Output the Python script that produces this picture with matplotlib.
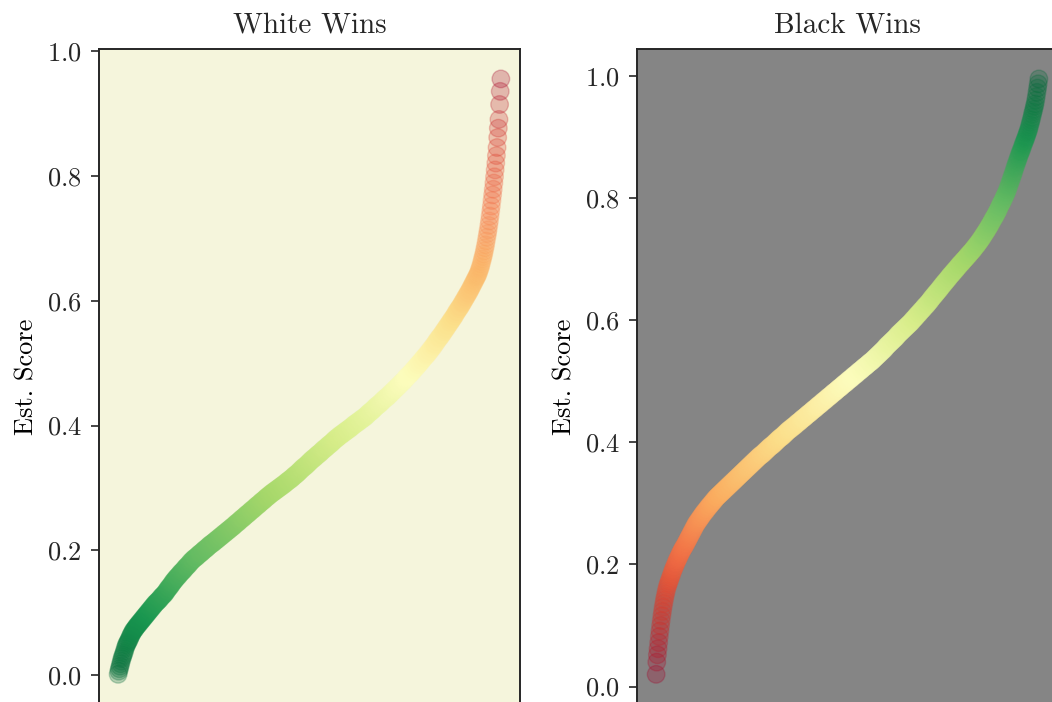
# sorted estimated scores for decisive games, one panel per winner

import numpy as np
import matplotlib
matplotlib.use('Agg')
import matplotlib.pyplot as plt


# est. score of each game where white won, sorted ascending
white_scores = [
    0.001, 0.006, 0.010, 0.014, 0.018, 0.022, 0.026, 0.029, 0.032, 0.035,
    0.038, 0.042, 0.045, 0.048, 0.050, 0.052, 0.054, 0.056, 0.058, 0.061,
    0.063, 0.065, 0.067, 0.069, 0.071, 0.072, 0.073, 0.075, 0.076, 0.078,
    0.079, 0.080, 0.081, 0.083, 0.084, 0.085, 0.086, 0.088, 0.089, 0.090,
    0.091, 0.093, 0.094, 0.095, 0.096, 0.098, 0.099, 0.100, 0.101, 0.103,
    0.104, 0.105, 0.106, 0.108, 0.109, 0.110, 0.111, 0.113, 0.114, 0.115,
    0.116, 0.117, 0.118, 0.119, 0.120, 0.121, 0.122, 0.124, 0.125, 0.126,
    0.127, 0.128, 0.129, 0.130, 0.131, 0.133, 0.134, 0.136, 0.137, 0.139,
    0.140, 0.141, 0.142, 0.144, 0.145, 0.147, 0.148, 0.150, 0.151, 0.152,
    0.153, 0.155, 0.156, 0.157, 0.158, 0.159, 0.160, 0.162, 0.163, 0.164,
    0.165, 0.166, 0.167, 0.168, 0.169, 0.171, 0.172, 0.173, 0.174, 0.175,
    0.176, 0.177, 0.178, 0.180, 0.181, 0.182, 0.183, 0.184, 0.185, 0.186,
    0.187, 0.188, 0.188, 0.189, 0.190, 0.191, 0.192, 0.193, 0.194, 0.195,
    0.195, 0.196, 0.197, 0.198, 0.199, 0.200, 0.201, 0.202, 0.202, 0.203,
    0.204, 0.205, 0.206, 0.207, 0.208, 0.209, 0.209, 0.210, 0.211, 0.212,
    0.212, 0.213, 0.214, 0.215, 0.216, 0.217, 0.217, 0.218, 0.219, 0.220,
    0.221, 0.222, 0.222, 0.223, 0.224, 0.225, 0.226, 0.227, 0.227, 0.228,
    0.229, 0.230, 0.231, 0.232, 0.232, 0.233, 0.234, 0.235, 0.236, 0.237,
    0.237, 0.238, 0.239, 0.240, 0.241, 0.242, 0.243, 0.244, 0.244, 0.245,
    0.246, 0.247, 0.248, 0.249, 0.250, 0.251, 0.251, 0.252, 0.253, 0.254,
    0.255, 0.256, 0.257, 0.258, 0.258, 0.259, 0.260, 0.261, 0.262, 0.263,
    0.264, 0.265, 0.265, 0.266, 0.267, 0.268, 0.269, 0.270, 0.271, 0.272,
    0.272, 0.273, 0.274, 0.275, 0.276, 0.277, 0.278, 0.279, 0.279, 0.280,
    0.281, 0.282, 0.283, 0.284, 0.285, 0.286, 0.286, 0.287, 0.288, 0.289,
    0.290, 0.291, 0.291, 0.292, 0.293, 0.294, 0.294, 0.295, 0.296, 0.297,
    0.297, 0.298, 0.299, 0.300, 0.300, 0.301, 0.302, 0.303, 0.303, 0.304,
    0.305, 0.306, 0.306, 0.307, 0.308, 0.309, 0.310, 0.311, 0.311, 0.312,
    0.313, 0.314, 0.314, 0.315, 0.316, 0.317, 0.318, 0.319, 0.320, 0.321,
    0.321, 0.322, 0.323, 0.324, 0.325, 0.326, 0.327, 0.328, 0.329, 0.330,
    0.331, 0.332, 0.333, 0.334, 0.334, 0.335, 0.336, 0.337, 0.338, 0.339,
    0.340, 0.341, 0.342, 0.343, 0.344, 0.345, 0.346, 0.347, 0.347, 0.348,
    0.349, 0.350, 0.351, 0.352, 0.353, 0.354, 0.354, 0.355, 0.356, 0.357,
    0.358, 0.359, 0.360, 0.361, 0.362, 0.363, 0.363, 0.364, 0.365, 0.366,
    0.367, 0.368, 0.369, 0.370, 0.370, 0.371, 0.372, 0.373, 0.374, 0.375,
    0.376, 0.377, 0.378, 0.379, 0.379, 0.380, 0.381, 0.382, 0.383, 0.384,
    0.384, 0.385, 0.386, 0.387, 0.387, 0.388, 0.389, 0.390, 0.390, 0.391,
    0.392, 0.393, 0.393, 0.394, 0.395, 0.396, 0.396, 0.397, 0.398, 0.399,
    0.400, 0.401, 0.401, 0.402, 0.403, 0.404, 0.404, 0.405, 0.406, 0.407,
    0.407, 0.408, 0.409, 0.410, 0.410, 0.411, 0.412, 0.413, 0.413, 0.414,
    0.415, 0.416, 0.417, 0.418, 0.419, 0.420, 0.421, 0.422, 0.422, 0.423,
    0.424, 0.425, 0.426, 0.427, 0.428, 0.429, 0.430, 0.431, 0.432, 0.433,
    0.433, 0.434, 0.435, 0.436, 0.437, 0.438, 0.439, 0.440, 0.441, 0.442,
    0.443, 0.444, 0.444, 0.445, 0.446, 0.447, 0.448, 0.449, 0.450, 0.451,
    0.452, 0.453, 0.454, 0.455, 0.456, 0.457, 0.458, 0.459, 0.460, 0.461,
    0.462, 0.463, 0.464, 0.465, 0.466, 0.467, 0.468, 0.469, 0.470, 0.471,
    0.472, 0.473, 0.474, 0.476, 0.477, 0.478, 0.479, 0.480, 0.481, 0.482,
    0.483, 0.484, 0.485, 0.486, 0.487, 0.489, 0.490, 0.491, 0.492, 0.493,
    0.494, 0.496, 0.497, 0.498, 0.499, 0.500, 0.501, 0.503, 0.504, 0.505,
    0.506, 0.508, 0.509, 0.510, 0.511, 0.512, 0.513, 0.515, 0.516, 0.517,
    0.518, 0.520, 0.521, 0.523, 0.524, 0.525, 0.526, 0.528, 0.529, 0.531,
    0.532, 0.534, 0.535, 0.537, 0.538, 0.540, 0.541, 0.542, 0.543, 0.545,
    0.546, 0.548, 0.549, 0.551, 0.552, 0.554, 0.555, 0.557, 0.558, 0.560,
    0.561, 0.563, 0.564, 0.566, 0.567, 0.569, 0.570, 0.572, 0.573, 0.575,
    0.576, 0.578, 0.580, 0.582, 0.583, 0.585, 0.586, 0.588, 0.589, 0.591,
    0.592, 0.594, 0.596, 0.598, 0.599, 0.601, 0.603, 0.605, 0.606, 0.608,
    0.610, 0.612, 0.613, 0.615, 0.617, 0.619,
    0.621, 0.623, 0.625, 0.627, 0.629, 0.631, 0.633, 0.635, 0.637, 0.639,
    0.641, 0.643, 0.646, 0.649, 0.652, 0.655, 0.659, 0.663, 0.667, 0.671,
    0.675, 0.680, 0.685, 0.690, 0.696, 0.702, 0.708, 0.714, 0.721, 0.728,
    0.736, 0.744, 0.752, 0.761, 0.770, 0.779, 0.789, 0.799, 0.810, 0.821,
    0.833, 0.846, 0.862, 0.877, 0.891, 0.915, 0.936, 0.956,
]

# est. score of each game where black won, sorted ascending
black_scores = [
    0.020, 0.040, 0.052, 0.062, 0.072, 0.082, 0.091, 0.100, 0.108, 0.116,
    0.123, 0.130, 0.136, 0.142, 0.147, 0.152, 0.157, 0.161, 0.165, 0.168,
    0.171, 0.174, 0.177, 0.180, 0.183, 0.186, 0.189, 0.192, 0.194, 0.197,
    0.199, 0.202, 0.204, 0.207, 0.209, 0.211, 0.213, 0.216, 0.218, 0.220,
    0.222, 0.224, 0.226, 0.228, 0.229, 0.231, 0.233, 0.235, 0.237, 0.239,
    0.241, 0.243, 0.245, 0.247, 0.249, 0.251, 0.253, 0.255, 0.257, 0.259,
    0.261, 0.263, 0.265, 0.267, 0.268, 0.270, 0.271, 0.273, 0.274, 0.276,
    0.277, 0.279, 0.280, 0.282, 0.283, 0.285, 0.286, 0.287, 0.288, 0.290,
    0.291, 0.293, 0.294, 0.295, 0.296, 0.298, 0.299, 0.300, 0.301, 0.303,
    0.304, 0.305, 0.306, 0.308, 0.309, 0.310, 0.311, 0.312, 0.313, 0.314,
    0.315, 0.316, 0.317, 0.318, 0.319, 0.320, 0.321, 0.322, 0.323, 0.324,
    0.325, 0.326, 0.327, 0.328, 0.329, 0.330, 0.331, 0.332, 0.333, 0.334,
    0.335, 0.336, 0.337, 0.338, 0.339, 0.340, 0.341, 0.342, 0.343, 0.344,
    0.345, 0.346, 0.347, 0.348, 0.349, 0.350, 0.351, 0.352, 0.353, 0.354,
    0.355, 0.356, 0.357, 0.358, 0.359, 0.360, 0.361, 0.362, 0.363, 0.364,
    0.365, 0.366, 0.367, 0.368, 0.369, 0.370, 0.371, 0.372, 0.373, 0.374,
    0.375, 0.376, 0.377, 0.378, 0.379, 0.379, 0.380, 0.381, 0.382, 0.383,
    0.384, 0.385, 0.386, 0.387, 0.388, 0.389, 0.390, 0.391, 0.392, 0.393,
    0.394, 0.394, 0.395, 0.396, 0.397, 0.398, 0.399, 0.400, 0.401, 0.402,
    0.403, 0.404, 0.405, 0.406, 0.407, 0.408, 0.408, 0.409, 0.410, 0.411,
    0.412, 0.413, 0.414, 0.415, 0.416, 0.417, 0.418, 0.419, 0.420, 0.421,
    0.421, 0.422, 0.423, 0.424, 0.425, 0.426, 0.426, 0.427, 0.428, 0.429,
    0.430, 0.431, 0.432, 0.433, 0.433, 0.434, 0.435, 0.436, 0.437, 0.438,
    0.439, 0.440, 0.440, 0.441, 0.442, 0.443, 0.444, 0.445, 0.446, 0.447,
    0.447, 0.448, 0.449, 0.450, 0.451, 0.452, 0.453, 0.454, 0.454, 0.455,
    0.456, 0.457, 0.458, 0.459, 0.460, 0.461, 0.461, 0.462, 0.463, 0.464,
    0.465, 0.466, 0.467, 0.468, 0.468, 0.469, 0.470, 0.471, 0.472, 0.473,
    0.474, 0.475, 0.475, 0.476, 0.477, 0.478, 0.479, 0.480, 0.481, 0.482,
    0.482, 0.483, 0.484, 0.485, 0.486, 0.487, 0.488, 0.489, 0.489, 0.490,
    0.491, 0.492, 0.493, 0.494, 0.495, 0.496, 0.496, 0.497, 0.498, 0.499,
    0.500, 0.501, 0.502, 0.503, 0.503, 0.504, 0.505, 0.506, 0.507, 0.508,
    0.509, 0.510, 0.510, 0.511, 0.512, 0.513, 0.514, 0.515, 0.516, 0.517,
    0.517, 0.518, 0.519, 0.520, 0.521, 0.522, 0.523, 0.524, 0.524, 0.525,
    0.526, 0.527, 0.528, 0.529, 0.530, 0.531, 0.531, 0.532, 0.533, 0.534,
    0.535, 0.536, 0.537, 0.538, 0.539, 0.540, 0.541, 0.542, 0.543, 0.544,
    0.545, 0.546, 0.547, 0.548, 0.549, 0.550, 0.551, 0.552, 0.553, 0.554,
    0.556, 0.557, 0.558, 0.559, 0.560, 0.561, 0.562, 0.563, 0.564, 0.565,
    0.566, 0.567, 0.568, 0.569, 0.570, 0.571, 0.572, 0.573, 0.575, 0.576,
    0.577, 0.578, 0.579, 0.580, 0.581, 0.582, 0.583, 0.584, 0.585, 0.586,
    0.587, 0.588, 0.589, 0.590, 0.591, 0.592, 0.593, 0.594, 0.595, 0.596,
    0.597, 0.598, 0.600, 0.601, 0.602, 0.603, 0.604, 0.605, 0.607, 0.608,
    0.609, 0.610, 0.611, 0.612, 0.614, 0.615, 0.616, 0.617, 0.618, 0.619,
    0.621, 0.622, 0.623, 0.624, 0.625, 0.626, 0.628, 0.629, 0.630, 0.631,
    0.633, 0.634, 0.636, 0.637, 0.638, 0.639, 0.641, 0.642, 0.643, 0.644,
    0.646, 0.647, 0.648, 0.649, 0.651, 0.652, 0.653, 0.655, 0.656, 0.657,
    0.659, 0.660, 0.661, 0.662, 0.664, 0.665, 0.666, 0.667, 0.669, 0.670,
    0.671, 0.673, 0.674, 0.675, 0.676, 0.677, 0.679, 0.680, 0.681, 0.682,
    0.683, 0.685, 0.686, 0.687, 0.688, 0.690, 0.691, 0.692, 0.693, 0.694,
    0.695, 0.697, 0.698, 0.699, 0.700, 0.701, 0.702, 0.704, 0.705, 0.706,
    0.707, 0.708, 0.710, 0.711, 0.712, 0.713, 0.714, 0.716, 0.717, 0.718,
    0.720, 0.721, 0.722, 0.724, 0.725, 0.726, 0.728, 0.729, 0.731, 0.732,
    0.734, 0.735, 0.737, 0.739, 0.740, 0.742, 0.743, 0.745, 0.747, 0.748,
    0.750, 0.752, 0.754, 0.755, 0.757, 0.759, 0.761, 0.763, 0.765, 0.767,
    0.768, 0.770, 0.772, 0.774, 0.776, 0.778, 0.780, 0.782, 0.785, 0.787,
    0.789, 0.791, 0.793, 0.795, 0.797, 0.800, 0.802, 0.804, 0.806, 0.809,
    0.811, 0.814, 0.817, 0.820, 0.823, 0.826, 0.829, 0.832, 0.835, 0.838,
    0.841, 0.844, 0.848, 0.851, 0.854, 0.857, 0.860, 0.863, 0.866, 0.869,
    0.872, 0.875, 0.877, 0.880, 0.883, 0.886, 0.889, 0.892, 0.894, 0.897,
    0.900, 0.903, 0.906, 0.909, 0.912, 0.916, 0.920, 0.924, 0.928, 0.932,
    0.937, 0.941, 0.945, 0.950, 0.954, 0.960, 0.966, 0.973, 0.980, 0.987,
    0.995,
]

titles = ['White Wins', 'Black Wins']
cmaps = ['RdYlGn_r', 'RdYlGn']
facecolors = ['beige', '#858585']


def setup_style():
    plt.rcParams['font.family'] = 'cmr10'
    plt.rcParams['mathtext.fontset'] = 'cm'
    plt.rcParams['axes.formatter.use_mathtext'] = True
    plt.rcParams['axes.edgecolor'] = '.15'
    plt.rcParams['axes.linewidth'] = 1.4
    plt.rcParams['ytick.major.size'] = 5.5
    plt.rcParams['ytick.major.width'] = 1.2
    plt.rcParams['ytick.major.pad'] = 7
    plt.rcParams['ytick.color'] = '.15'
    plt.rcParams['text.color'] = '.15'


def plot_panel(ax, scores, title, cmap, facecolor):
    scores = np.array(scores)
    idx = np.arange(len(scores))
    ax.set_facecolor(facecolor)
    ax.scatter(idx, scores, c=scores, cmap=cmap, s=160, alpha=0.26)
    ax.set_xticks([])
    ax.set_ylabel('Est. Score', fontsize=19, labelpad=6)
    ax.set_title(title, fontsize=21, pad=12)
    ax.tick_params(axis='y', labelsize=19)


def main():
    setup_style()

    fig = plt.figure(figsize=(10.52, 7.02), dpi=100)
    # the original figure is cropped on the right and at the bottom
    ax_white = fig.add_axes([0.0941, -0.003, 0.4002, 0.933])
    ax_black = fig.add_axes([0.6055, -0.003, 0.4002, 0.933])

    plot_panel(ax_white, white_scores, titles[0], cmaps[0], facecolors[0])
    plot_panel(ax_black, black_scores, titles[1], cmaps[1], facecolors[1])

    fig.savefig('out.png', dpi=100)


if __name__ == '__main__':
    main()
